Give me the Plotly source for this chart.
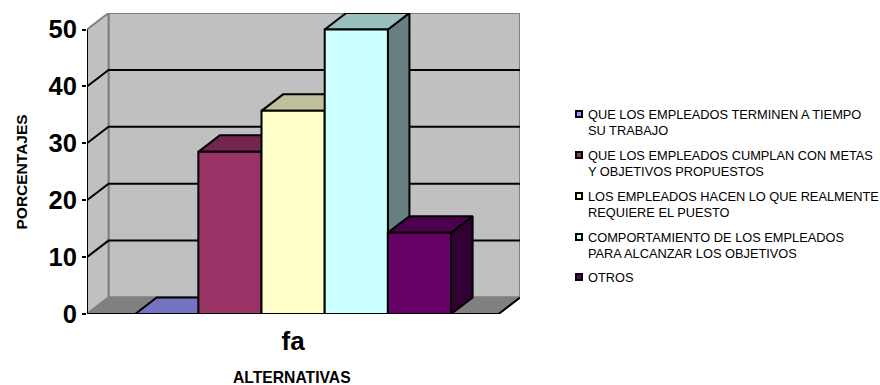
import plotly.graph_objects as go

# Survey results
category_label = "fa"
series_names = [
    ["QUE LOS EMPLEADOS TERMINEN A TIEMPO", "SU TRABAJO"],
    ["QUE LOS EMPLEADOS CUMPLAN CON METAS", "Y OBJETIVOS PROPUESTOS"],
    ["LOS EMPLEADOS HACEN LO QUE REALMENTE", "REQUIERE EL PUESTO"],
    ["COMPORTAMIENTO DE LOS EMPLEADOS", "PARA ALCANZAR LOS OBJETIVOS"],
    ["OTROS"],
]
values = [0, 28.5, 35.7, 50, 14.3]
front_colors = ["#9999FF", "#993366", "#FFFFCC", "#CCFFFF", "#660066"]
top_colors = ["#7373BF", "#73264D", "#BFBF99", "#99BFBF", "#4D004D"]
side_colors = ["#4D4D80", "#4D1A33", "#808066", "#668080", "#330033"]
y_ticks = [0, 10, 20, 30, 40, 50]

# Extruded-box geometry in data units (one bar is one x unit wide)
DEPTH_X = 0.341
DEPTH_Y = 2.9
X_LEFT = -1.262
X_RIGHT = 5.25
Y_MAX = 50

x_range = [X_LEFT, X_RIGHT + DEPTH_X]
y_range = [0, Y_MAX + DEPTH_Y]

ML, MT, PW, PH = 87, 13, 433, 301


def px_x(px):
    return (px - ML) / PW


def px_y(py):
    return (MT + PH - py) / PH


fig = go.Figure()


def poly(xs, ys, fill, line="black", width=2):
    fig.add_trace(go.Scatter(
        x=xs, y=ys, mode="lines", fill="toself", fillcolor=fill,
        line=dict(color=line, width=width), hoverinfo="skip",
        showlegend=False, cliponaxis=False,
    ))


def path(xs, ys, color="black", width=2):
    fig.add_trace(go.Scatter(
        x=xs, y=ys, mode="lines", line=dict(color=color, width=width),
        hoverinfo="skip", showlegend=False, cliponaxis=False,
    ))


# Walls and floor
GRAY = "#808080"
WALL = "#C0C0C0"
poly([X_LEFT + DEPTH_X, X_RIGHT + DEPTH_X, X_RIGHT + DEPTH_X, X_LEFT + DEPTH_X, X_LEFT + DEPTH_X],
     [DEPTH_Y, DEPTH_Y, Y_MAX + DEPTH_Y, Y_MAX + DEPTH_Y, DEPTH_Y], WALL, GRAY)
poly([X_LEFT, X_LEFT + DEPTH_X, X_LEFT + DEPTH_X, X_LEFT, X_LEFT],
     [0, DEPTH_Y, Y_MAX + DEPTH_Y, Y_MAX, 0], WALL, GRAY)
poly([X_LEFT, X_RIGHT, X_RIGHT + DEPTH_X, X_LEFT + DEPTH_X, X_LEFT],
     [0, 0, DEPTH_Y, DEPTH_Y, 0], GRAY, GRAY)

# Gridlines run across the left wall and the back wall
for tick in y_ticks[1:-1]:
    path([X_LEFT, X_LEFT + DEPTH_X, X_RIGHT + DEPTH_X],
         [tick, tick + DEPTH_Y, tick + DEPTH_Y])

# Top and side faces, left to right so later boxes overlap earlier ones
for i, v in enumerate(values):
    x0, x1 = i - 0.5, i + 0.5
    poly([x1, x1 + DEPTH_X, x1 + DEPTH_X, x1, x1],
         [0, DEPTH_Y, v + DEPTH_Y, v, 0], side_colors[i])
    poly([x0, x0 + DEPTH_X, x1 + DEPTH_X, x1, x0],
         [v, v + DEPTH_Y, v + DEPTH_Y, v, v], top_colors[i])

# Front faces sit on an overlaid pair of axes so they cover the extrusions
for i, v in enumerate(values):
    fig.add_trace(go.Bar(
        x=[i], y=[v], width=1, name=" ".join(series_names[i]),
        marker=dict(color=front_colors[i], line=dict(color="black", width=2)),
        xaxis="x2", yaxis="y2", showlegend=False, cliponaxis=False,
    ))

# Axis lines
path([X_LEFT, X_LEFT], [0, Y_MAX])
path([X_LEFT, X_RIGHT], [0, 0])
path([X_RIGHT, X_RIGHT + DEPTH_X], [0, DEPTH_Y])

annotations = [
    dict(text="<b>PORCENTAJES</b>", x=px_x(21), y=px_y(172.5), textangle=-90,
         font=dict(size=15.5)),
    dict(text="<b>ALTERNATIVAS</b>", x=px_x(292), y=px_y(377), font=dict(size=15.7)),
]

# End ticks of the category axis hang below the plotting area
shapes = [
    dict(type="line", xref="x", yref="y", x0=x, x1=x, y0=0, y1=-1,
         line=dict(color="black", width=2))
    for x in (X_LEFT, X_RIGHT)
]

# Hand-placed legend: small swatches with tight two-line labels
entry_rows = [114, 155, 196, 237, 277]
for row, lines, color in zip(entry_rows, series_names, front_colors):
    shapes.append(dict(
        type="rect", xref="paper", yref="paper",
        x0=px_x(576), x1=px_x(582), y0=px_y(row + 3), y1=px_y(row - 3),
        fillcolor=color, line=dict(color="black", width=2),
    ))
    for k, text in enumerate(lines):
        annotations.append(dict(
            text=text, x=px_x(586), y=px_y(row + 16.5 * k), xanchor="left",
            font=dict(size=12.8),
        ))

for a in annotations:
    a.update(xref="paper", yref="paper", showarrow=False, yanchor="middle")
    a.setdefault("xanchor", "center")
    a["font"] = dict(family="Liberation Sans", color="black", size=a["font"]["size"])

fig.update_layout(
    width=880, height=385, autosize=False,
    margin=dict(l=ML, r=880 - ML - PW, t=MT, b=385 - MT - PH),
    paper_bgcolor="white", plot_bgcolor="white",
    showlegend=False, barmode="overlay",
    font=dict(family="Liberation Sans", color="black"),
    annotations=annotations, shapes=shapes,
    xaxis=dict(
        range=x_range, showgrid=False, zeroline=False, showline=False,
        tickmode="array", tickvals=[2], ticktext=[f"<b>{category_label}</b>"],
        ticks="", tickfont=dict(size=26, color="black"), ticklabelstandoff=9,
    ),
    yaxis=dict(
        range=y_range, showgrid=False, zeroline=False, showline=False,
        tickmode="array", tickvals=y_ticks,
        ticktext=[f"<b>{t}</b>" for t in y_ticks],
        ticks="outside", ticklen=4, tickwidth=2, tickcolor="black",
        tickfont=dict(size=25.5, color="black"),
    ),
    xaxis2=dict(range=x_range, overlaying="x", visible=False, anchor="y2"),
    yaxis2=dict(range=y_range, overlaying="y", visible=False, anchor="x2"),
)

fig.write_html("out.html")
